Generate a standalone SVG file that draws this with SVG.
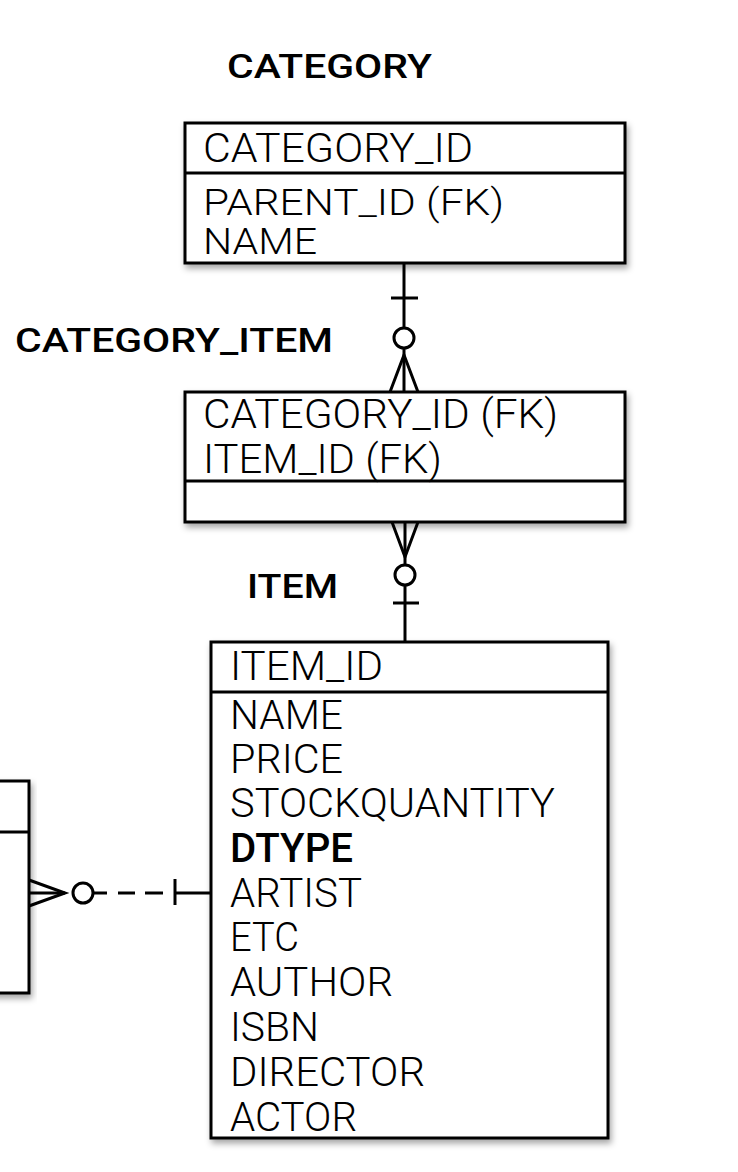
<svg xmlns="http://www.w3.org/2000/svg" width="738" height="1172" viewBox="0 0 738 1172">
<defs>
<filter id="sh" x="-10%" y="-10%" width="125%" height="125%">
<feDropShadow dx="2" dy="4" stdDeviation="3" flood-color="#000" flood-opacity="0.35"/>
</filter>
<style>
.box{fill:#fff;stroke:#000;stroke-width:3}
.div{stroke:#000;stroke-width:3;fill:none}
.ln{stroke:#000;stroke-width:3;fill:none}
.t{font-family:Roboto,"Liberation Sans",Arial,sans-serif;font-weight:300;font-size:41px;fill:#000}
.s{font-size:36px}
.b{font-family:Roboto,"Liberation Sans",Arial,sans-serif;font-size:33px;font-weight:500;fill:#000}
.tb{font-family:Roboto,"Liberation Sans",Arial,sans-serif;font-size:41px;font-weight:500;fill:#000}
</style>
</defs>
<rect width="738" height="1172" fill="#fff"/>

<g id="label-category"><text class="b" x="227" y="78" textLength="205" lengthAdjust="spacingAndGlyphs">CATEGORY</text></g>
<g id="label-category-item"><text class="b" x="15" y="352" textLength="318" lengthAdjust="spacingAndGlyphs">CATEGORY_ITEM</text></g>
<g id="label-item"><text class="b" x="247" y="598" textLength="91" lengthAdjust="spacingAndGlyphs">ITEM</text></g>

<g id="category">
<rect class="box" x="185" y="123" width="440" height="140" filter="url(#sh)"/>
<line class="div" x1="185" y1="173" x2="625" y2="173"/>
<text class="t" x="203" y="162" textLength="270" lengthAdjust="spacingAndGlyphs">CATEGORY_ID</text>
<text class="t s" x="203" y="215" textLength="301" lengthAdjust="spacingAndGlyphs">PARENT_ID (FK)</text>
<text class="t s" x="203" y="254" textLength="114" lengthAdjust="spacingAndGlyphs">NAME</text>
</g>

<g id="category-item">
<rect class="box" x="185" y="392" width="440" height="130" filter="url(#sh)"/>
<line class="div" x1="185" y1="481" x2="625" y2="481"/>
<text class="t" x="203" y="428" textLength="355" lengthAdjust="spacingAndGlyphs">CATEGORY_ID (FK)</text>
<text class="t" x="203" y="473" textLength="239" lengthAdjust="spacingAndGlyphs">ITEM_ID (FK)</text>
</g>

<g id="item">
<rect class="box" x="211" y="642" width="397" height="496" filter="url(#sh)"/>
<line class="div" x1="211" y1="692" x2="608" y2="692"/>
<text class="t" x="230" y="680" textLength="153" lengthAdjust="spacingAndGlyphs">ITEM_ID</text>
<text class="t" x="230" y="729" textLength="113" lengthAdjust="spacingAndGlyphs">NAME</text>
<text class="t" x="230" y="773" textLength="113" lengthAdjust="spacingAndGlyphs">PRICE</text>
<text class="t" x="230" y="817" textLength="325" lengthAdjust="spacingAndGlyphs">STOCKQUANTITY</text>
<text class="tb" x="230" y="862" textLength="123" lengthAdjust="spacingAndGlyphs">DTYPE</text>
<text class="t" x="230" y="907" textLength="132" lengthAdjust="spacingAndGlyphs">ARTIST</text>
<text class="t" x="230" y="951" textLength="69" lengthAdjust="spacingAndGlyphs">ETC</text>
<text class="t" x="230" y="996" textLength="163" lengthAdjust="spacingAndGlyphs">AUTHOR</text>
<text class="t" x="230" y="1041" textLength="89" lengthAdjust="spacingAndGlyphs">ISBN</text>
<text class="t" x="230" y="1086" textLength="195" lengthAdjust="spacingAndGlyphs">DIRECTOR</text>
<text class="t" x="230" y="1131" textLength="127" lengthAdjust="spacingAndGlyphs">ACTOR</text>
</g>

<g id="left-entity">
<rect class="box" x="-20" y="781" width="49" height="212" filter="url(#sh)"/>
<line class="div" x1="-20" y1="832" x2="29" y2="832"/>
</g>

<g id="connectors">
<line class="ln" x1="404" y1="263" x2="404" y2="327"/>
<line class="ln" x1="391" y1="298" x2="418" y2="298"/>
<circle class="ln" cx="404" cy="338" r="10"/>
<line class="ln" x1="404" y1="348" x2="404" y2="392"/>
<polyline class="ln" points="390,392 404,355 418,392"/>
<line class="ln" x1="405" y1="522" x2="405" y2="565"/>
<polyline class="ln" points="392,522 405,557 418,522"/>
<circle class="ln" cx="405" cy="575" r="10"/>
<line class="ln" x1="405" y1="585" x2="405" y2="642"/>
<line class="ln" x1="393" y1="603" x2="419" y2="603"/>
<line class="ln" x1="29" y1="893" x2="65" y2="893"/>
<polyline class="ln" points="29,880 65,893 29,906"/>
<circle class="ln" cx="83" cy="893" r="10"/>
<line class="ln" x1="93" y1="893" x2="107" y2="893"/>
<line class="ln" x1="118" y1="893" x2="135" y2="893"/>
<line class="ln" x1="145" y1="893" x2="163" y2="893"/>
<line class="ln" x1="175" y1="893" x2="211" y2="893"/>
<line class="ln" x1="175" y1="879" x2="175" y2="905"/>
</g>
</svg>
